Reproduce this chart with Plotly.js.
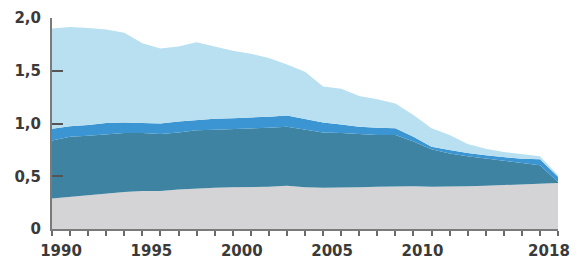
<!DOCTYPE html>
<html>
<head>
<meta charset="utf-8">
<script src="https://cdn.plot.ly/plotly-3.0.1.min.js"></script>
<style>
html,body{margin:0;padding:0;background:#fff;}
#chart{width:587px;height:262px;}
</style>
</head>
<body>
<div id="chart"></div>
<script>
// Years 1990..2018
var years = [1990,1991,1992,1993,1994,1995,1996,1997,1998,1999,2000,2001,2002,2003,2004,
             2005,2006,2007,2008,2009,2010,2011,2012,2013,2014,2015,2016,2017,2018];
// Stacked layer thicknesses (bottom to top)
var greyLayer   = [0.29,0.305,0.32,0.34,0.35,0.36,0.36,0.375,0.385,0.39,0.395,0.395,0.40,0.41,0.395,
                   0.39,0.39,0.395,0.40,0.405,0.405,0.40,0.40,0.405,0.41,0.415,0.42,0.43,0.435];
var darkLayer   = [0.55,0.57,0.565,0.56,0.56,0.55,0.54,0.54,0.55,0.55,0.55,0.555,0.56,0.56,0.545,
                   0.525,0.52,0.505,0.49,0.485,0.425,0.355,0.315,0.285,0.26,0.23,0.21,0.175,0.01];
var mediumLayer = [0.11,0.10,0.10,0.105,0.10,0.095,0.10,0.105,0.10,0.105,0.105,0.105,0.105,0.105,0.10,
                   0.095,0.08,0.07,0.07,0.065,0.045,0.025,0.035,0.03,0.03,0.035,0.035,0.055,0.05];
var lightLayer  = [0.95,0.94,0.92,0.885,0.85,0.755,0.71,0.71,0.735,0.685,0.64,0.605,0.555,0.485,0.45,
                   0.34,0.34,0.29,0.27,0.235,0.205,0.175,0.14,0.085,0.06,0.05,0.045,0.03,0.015];

var yTickVals = [0,0.5,1,1.5,2];
var yTickText = ['0','0,5','1,0','1,5','2,0'];
var xLabelYears = [1990,1995,2000,2005,2010,2018];

// label positions sit in the middle of the year cell (last one before the end)
var xLabelPos = xLabelYears.map(function(y){ return y === 2018 ? y - 0.5 : y + 0.5; });

function layer(vals, color){
  return {x: years, y: vals, type:'scatter', mode:'lines', stackgroup:'one',
          line:{width:0, color:color, shape:'linear'}, fillcolor:color, hoverinfo:'skip'};
}

var data = [
  layer(greyLayer,   '#d4d4d6'),
  layer(darkLayer,   '#3e83a2'),
  layer(mediumLayer, '#3b95d2'),
  layer(lightLayer,  '#b8e0f1')
];

var tickFont = {family:'DejaVu Sans', size:15, color:'#3a3a3a', weight:'bold'};

var layout = {
  width:587, height:262,
  margin:{l:52, r:29, t:18, b:33},
  paper_bgcolor:'#ffffff', plot_bgcolor:'#ffffff',
  showlegend:false,
  xaxis:{
    range:[1990,2018], showgrid:false, zeroline:false,
    showline:true, linecolor:'#7a7a7a', linewidth:2,
    tickmode:'array', tickvals:xLabelPos, ticktext:xLabelYears.map(String),
    ticks:'', tickfont:tickFont, ticklabelstandoff:7,
    minor:{tickmode:'linear', tick0:1990, dtick:1, ticks:'outside', ticklen:5, tickwidth:2, tickcolor:'#6a6a6a', showgrid:false},
    fixedrange:true
  },
  yaxis:{
    range:[0,2.0], showgrid:false, zeroline:false,
    showline:true, linecolor:'#7a7a7a', linewidth:2,
    tickmode:'array', tickvals:yTickVals, ticktext:yTickText,
    ticks:'inside', ticklen:11, tickwidth:2, tickcolor:'#555555',
    tickfont:tickFont, ticklabelstandoff:6,
    fixedrange:true
  }
};

Plotly.newPlot('chart', data, layout, {staticPlot:true, displayModeBar:false});
</script>
</body>
</html>
